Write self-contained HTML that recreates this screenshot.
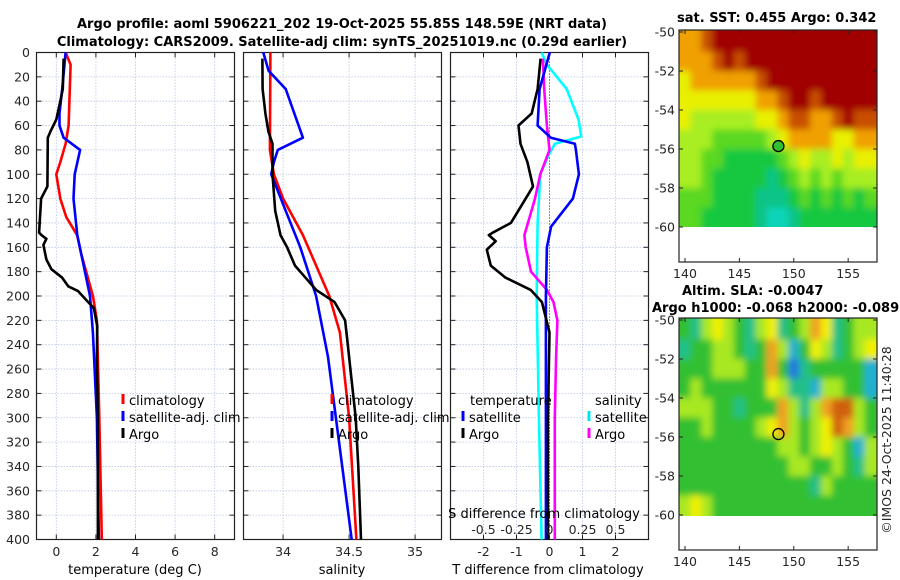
<!DOCTYPE html>
<html><head><meta charset="utf-8">
<style>
html,body{margin:0;padding:0;background:#fff;}
svg{display:block;font-family:"DejaVu Sans","Liberation Sans",sans-serif;}
.tk{font-size:12.5px;fill:#262626;}
.ttl{font-size:13px;font-weight:bold;fill:#000;}
.lg{font-size:13px;fill:#000;}
</style></head>
<body>
<svg id="fig" width="900" height="580" viewBox="0 0 900 580" xmlns="http://www.w3.org/2000/svg">
<defs>
<filter id="blur" x="-5%" y="-5%" width="110%" height="110%"><feGaussianBlur stdDeviation="3.5"/></filter>
<clipPath id="clipTop"><rect x="679" y="30" width="198" height="197"/></clipPath>
<clipPath id="clipBot"><rect x="679" y="318" width="198" height="198"/></clipPath>
</defs>
<text class="ttl" x="342" y="28" text-anchor="middle">Argo profile: aoml 5906221_202 19-Oct-2025 55.85S 148.59E (NRT data)</text>
<text class="ttl" x="342" y="46" text-anchor="middle">Climatology: CARS2009. Satellite-adj clim: synTS_20251019.nc (0.29d earlier)</text>
<text class="ttl" x="677" y="22">sat. SST: 0.455 Argo: 0.342</text>
<text class="ttl" x="682" y="295">Altim. SLA: -0.0047</text>
<text class="ttl" x="652" y="312">Argo h1000: -0.068 h2000: -0.089</text>
<text class="tk" x="0" y="0" transform="translate(891,440) rotate(-90)" text-anchor="middle">©IMOS 24-Oct-2025 11:40:28</text>
<g id="layer"></g>
</svg>
<script>
// ---------- data ----------
const depthTicks=[0,20,40,60,80,100,120,140,160,180,200,220,240,260,280,300,320,340,360,380,400];
const tTicks=[0,2,4,6,8];
const sTicks=[34,34.5,35];
const dTicks=[-2,-1,0,1,2];
const dsTickLabels=["-0.5","-0.25","0","0.25","0.5"];
const dsTicks=[-0.5,-0.25,0,0.25,0.5];

const argoTd=[5,30,40,55,65,70,110,120,148,150,153,158,170,178,185,192,196,203,210,225,250,300,400];
const argoT=[0.37,0.33,0.2,0,-0.3,-0.43,-0.45,-0.77,-0.87,-0.75,-0.5,-0.65,-0.5,-0.25,0.3,0.6,1.1,1.5,1.9,2.07,2.05,2.1,2.1];
const climTd=[0,10,60,75,90,100,120,135,150,165,200,220,300,400];
const climT=[0.47,0.72,0.62,0.47,0.2,0,0.2,0.5,1.05,1.25,1.85,2.05,2.17,2.3];
const satTd=[0,30,50,60,70,80,100,120,150,200,230,300,400];
const satT=[0.47,0.3,0.16,0.16,0.37,1.2,0.93,0.87,1.06,1.7,1.85,2.05,2.15];

const argoSd=[5,30,50,65,75,100,130,150,160,175,185,195,205,220,240,260,300,340,400];
const argoS=[33.843,33.845,33.866,33.889,33.92,33.92,33.94,33.98,34.03,34.09,34.17,34.25,34.39,34.47,34.49,34.51,34.55,34.57,34.59];
const climSd=[0,80,100,120,150,170,200,230,300,400];
const climS=[33.904,33.9,33.93,34.0,34.15,34.23,34.35,34.43,34.5,34.555];
const satSd=[0,15,30,70,80,90,100,130,160,200,250,300,400];
const satS=[33.85,33.89,34.02,34.15,33.96,33.93,33.91,34.02,34.13,34.25,34.34,34.4,34.52];

const dArgoTd=[5,30,50,60,75,90,110,120,140,148,150,155,162,175,185,195,205,230,300,400];
const dArgoT=[-0.27,-0.36,-0.54,-0.94,-0.88,-0.67,-0.5,-0.72,-1.17,-1.72,-1.84,-1.63,-1.9,-1.78,-1.33,-0.57,-0.23,0,-0.05,-0.05];
const dSatTd=[0,30,60,70,75,80,100,120,143,160,200,300,400];
const dSatT=[0.01,-0.3,-0.36,0.04,0.77,0.8,0.89,0.71,0.05,-0.08,-0.11,-0.11,-0.11];
const dSatSd=[0,10,30,55,69,75,85,100,140,200,300,400];
const dSatS=[-0.06,-0.02,0.13,0.22,0.24,0.04,-0.01,-0.07,-0.09,-0.097,-0.08,-0.06];
const dArgoSd=[5,30,60,80,100,120,150,160,180,195,205,220,250,300,400];
const dArgoS=[-0.05,-0.04,-0.02,0,-0.07,-0.11,-0.19,-0.18,-0.14,-0.02,0.03,0.06,0.05,0.04,0.04];

// maps: rows lat -50..-59 (1 deg), cols lon 139.5..156.5 (1 deg)
const sstGrid=[
[7,7,8,9,9,9,9,9,9,9,9,9,9,9,9,9,9,9],
[7,7,7,8,9,8,9,9,9,9,9,9,9,9,9,9,9,9],
[6,7,7,7,7,7,7,8,9,9,9,9,9,9,9,9,9,9],
[6,6,6,6,6,6,6,7,7,8,9,9,8,9,9,9,9,9],
[6,5,5,5,5,5,5,6,6,7,8,8,7,7,8,9,8,8],
[5,5,5,4,4,4,4,4,5,6,7,7,7,7,6,6,7,7],
[5,5,4,4,3,3,3,3,3,4,5,6,5,5,6,5,6,6],
[5,5,4,3,3,3,3,3,2,3,4,5,4,5,4,5,5,5],
[4,4,4,3,3,3,3,2,2,2,3,4,3,4,3,4,3,4],
[4,4,3,3,3,3,3,2,1,1,2,3,3,3,3,3,3,3]];
const slaGrid=[
[0,-1,1,2,1,0,-1,1,2,-1,0,1,3,2,-1,0,1,1],
[-1,0,0,1,1,0,-1,0,3,1,-2,0,2,1,-1,0,1,2],
[0,0,0,1,1,1,0,0,3,0,-3,-1,0,0,0,0,0,-2],
[0,1,0,0,0,0,0,0,2,1,-1,-1,-2,1,1,0,0,-2],
[1,1,1,0,0,-1,0,0,0,3,1,-1,1,3,4,4,1,0],
[0,0,1,0,0,0,0,1,2,3,1,0,1,2,4,3,1,0],
[0,0,0,0,0,0,0,0,0,1,1,0,1,2,1,0,-2,1],
[0,0,0,0,0,0,0,0,0,0,1,1,0,0,1,0,-1,1],
[0,0,0,0,0,0,0,0,0,0,0,0,-1,1,0,0,0,0],
[1,2,1,0,0,0,0,0,0,0,0,0,0,0,0,0,0,0]];
const sstColors=["#00e5e5","#10d4b8","#10c488","#18c840","#5ad820","#a8ee20","#e8f000","#f0a000","#c85000","#a00000"];
const slaColors={"-3":"#2078e0","-2":"#20b0d0","-1":"#20c088","0":"#30c030","1":"#a8e820","2":"#f0f000","3":"#f0a020","4":"#d06010"};
const mapLonTicks=[140,145,150,155];
const mapLatTicks=[-50,-52,-54,-56,-58,-60];
const argoLon=148.59, argoLat=-55.85;

// ---------- helpers ----------
const NS="http://www.w3.org/2000/svg";
const layer=document.getElementById('layer');
function mk(tag,attrs,parent){const e=document.createElementNS(NS,tag);for(const k in attrs)e.setAttribute(k,attrs[k]);(parent||layer).appendChild(e);return e;}
const Y0=52.5,Y1=539.5;
const yD=d=>Y0+(d/400)*(Y1-Y0);

function panel(name,x0,x1,xmin,xmax,xticks,xlabels,showY){
  const g=mk('g',{});
  
  
  const xs=v=>x0+(v-xmin)/(xmax-xmin)*(x1-x0);
  depthTicks.forEach(d=>{
    const l=mk('line',{x1:x0,x2:x1,y1:yD(d),y2:yD(d),stroke:'#b8c4e8','stroke-width':0.8,'stroke-dasharray':'1.5,1.5'},g);
    
    
    mk('line',{x1:x0,x2:x0+5,y1:yD(d),y2:yD(d),stroke:'#222'},g);
    mk('line',{x1:x1-5,x2:x1,y1:yD(d),y2:yD(d),stroke:'#222'},g);
    if(showY){const t=mk('text',{x:30,y:yD(d)+4.5,'text-anchor':'end',class:'tk'},g);t.textContent=d;
      
      }
  });
  xticks.forEach((v,i)=>{
    mk('line',{x1:xs(v),x2:xs(v),y1:Y0,y2:Y1,stroke:'#b8c4e8','stroke-width':0.8,'stroke-dasharray':'1.5,1.5'},g);
    mk('line',{x1:xs(v),x2:xs(v),y1:Y1-5,y2:Y1,stroke:'#222'},g);
    mk('line',{x1:xs(v),x2:xs(v),y1:Y0,y2:Y0+5,stroke:'#222'},g);
    const t=mk('text',{x:xs(v),y:556,'text-anchor':'middle',class:'tk'},g);t.textContent=xlabels[i];
    
    
  });
  mk('rect',{x:x0,y:Y0,width:x1-x0,height:Y1-Y0,fill:'none',stroke:'#222','stroke-width':1.2},g);
  return {g,xs};
}
function series(p,name,xv,dv,color){
  const pts=xv.map((v,i)=>p.xs(v).toFixed(1)+','+yD(dv[i]).toFixed(1)).join(' ');
  const e=mk('polyline',{points:pts,fill:'none',stroke:color,'stroke-width':2.6,'stroke-linejoin':'round'},p.g);
  
  
}
function legend(x,y,color,label,name){
  const g=mk('g',{});
  
  
  mk('line',{x1:x,x2:x,y1:y-11,y2:y-1,stroke:color,'stroke-width':3},g);
  const t=mk('text',{x:x+6,y:y,class:'lg'},g);t.textContent=label;
}
function label(x,y,txt,name,anchor){
  const t=mk('text',{x:x,y:y,'text-anchor':anchor||'middle',class:'lg'});t.textContent=txt;
  
  
}

// ---------- panel 1: temperature ----------
const p1=panel('temperature-panel',36.5,234.5,-1,9,tTicks,tTicks.map(String),true);
series(p1,'climatology-temperature-line',climT,climTd,'#ff0000');
series(p1,'satellite-temperature-line',satT,satTd,'#0000ff');
series(p1,'argo-temperature-line',argoT,argoTd,'#000000');
label(135,574,'temperature (deg C)','temperature-axis-title');
legend(123,405,'#ff0000','climatology','legend-climatology-t');
legend(123,422,'#0000ff','satellite-adj. clim','legend-satellite-t');
legend(123,439,'#000000','Argo','legend-argo-t');

// ---------- panel 2: salinity ----------
const p2=panel('salinity-panel',243.5,441.5,33.7,35.2,sTicks,["34","34.5","35"],false);
series(p2,'climatology-salinity-line',climS,climSd,'#ff0000');
series(p2,'satellite-salinity-line',satS,satSd,'#0000ff');
series(p2,'argo-salinity-line',argoS,argoSd,'#000000');
label(342,574,'salinity','salinity-axis-title');
legend(332,405,'#ff0000','climatology','legend-climatology-s');
legend(332,422,'#0000ff','satellite-adj. clim','legend-satellite-s');
legend(332,439,'#000000','Argo','legend-argo-s');

// ---------- panel 3: differences ----------
const p3=panel('difference-panel',450.5,648.5,-3,3,dTicks,dTicks.map(String),false);
const zl=mk('line',{x1:p3.xs(0),x2:p3.xs(0),y1:Y0,y2:Y1,stroke:'#333','stroke-dasharray':'1,2'},p3.g);


series(p3,'satellite-salinity-diff-line',dSatS.map(v=>v*4),dSatSd,'#00ffff');
series(p3,'argo-salinity-diff-line',dArgoS.map(v=>v*4),dArgoSd,'#ff00ff');
series(p3,'satellite-temperature-diff-line',dSatT,dSatTd,'#0000ff');
series(p3,'argo-temperature-diff-line',dArgoT,dArgoTd,'#000000');
dsTicks.forEach((v,i)=>{const t=mk('text',{x:p3.xs(v*4),y:534,'text-anchor':'middle',class:'tk'},p3.g);t.textContent=dsTickLabels[i];
  
  });
label(544,518,'S difference from climatology','s-diff-axis-title');
label(548,574,'T difference from climatology','t-diff-axis-title');
label(470,405,'temperature','legend-temperature-heading','start');
label(595,405,'salinity','legend-salinity-heading','start');
legend(463,422,'#0000ff','satellite','legend-satellite-dt');
legend(463,439,'#000000','Argo','legend-argo-dt');
legend(589,422,'#00e5e5','satellite','legend-satellite-ds');
legend(589,439,'#ff00ff','Argo','legend-argo-ds');

// ---------- maps ----------
function map(name,top,grid,colorOf,filled,clipId){
  const g=mk('g',{});
  
  
  const X0=679,X1=877,lonMin=139.45,lonMax=157.65;
  const pxLat=19.5;
  const lx=lon=>X0+(lon-lonMin)/(lonMax-lonMin)*(X1-X0);
  const ly=lat=>top+(-50-lat)*pxLat;
  const cg=mk('g',{'clip-path':'url(#'+clipId+')'},g);
  const bg=mk('g',{filter:'url(#blur)'},cg);
  grid.forEach((row,r)=>row.forEach((v,c)=>{
    // extend edge cells outward so blur doesn't fade at borders
    let x=lx(139.5+c), w=lx(140.5+c)-x, y=ly(-50-r), h=pxLat;
    if(c===0){x-=12;w+=12;} if(c===row.length-1){w+=14;}
    if(r===0){y-=12;h+=12;} if(r===grid.length-1){h+=10;}
    const cell=mk('rect',{x:x,y:y,width:w+0.5,height:h+0.5,fill:colorOf(v)},bg);
    
    
  }));
  mapLatTicks.forEach(lat=>{
    mk('line',{x1:X0,x2:X0+4,y1:ly(lat),y2:ly(lat),stroke:'#222'},g);
    mk('line',{x1:X1-4,x2:X1,y1:ly(lat),y2:ly(lat),stroke:'#222'},g);
    const t=mk('text',{x:675,y:ly(lat)+4.5,'text-anchor':'end',class:'tk'},g);t.textContent=lat;
    
    
  });
  const bottom=ly(-60)+35;
  mapLonTicks.forEach(lon=>{
    mk('line',{x1:lx(lon),x2:lx(lon),y1:bottom-4,y2:bottom,stroke:'#222'},g);
    mk('line',{x1:lx(lon),x2:lx(lon),y1:ly(-50)-2,y2:ly(-50)+2,stroke:'#222'},g);
    const t=mk('text',{x:lx(lon),y:bottom+16,'text-anchor':'middle',class:'tk'},g);t.textContent=lon;
    
    
  });
  mk('rect',{x:X0,y:ly(-50)-2,width:X1-X0,height:bottom-ly(-50)+2,fill:'none',stroke:'#222','stroke-width':1.2},g);
  const c=mk('circle',{cx:lx(argoLon),cy:ly(argoLat),r:5.5,fill:filled?'#30c030':'none',stroke:'#000','stroke-width':1.3},g);
  
  
}
map('sst-map',32,sstGrid,v=>sstColors[v],true,'clipTop');
map('sla-map',320,slaGrid,v=>slaColors[String(v)],false,'clipBot');
</script>
</body></html>
